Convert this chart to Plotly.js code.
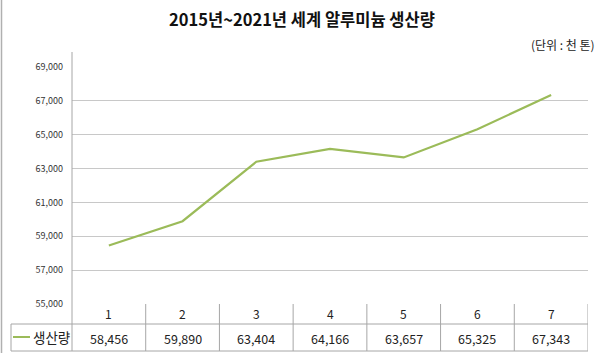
<!DOCTYPE html>
<html>
<head>
<meta charset="utf-8">
<script src="https://cdn.plot.ly/plotly-3.0.1.min.js"></script>
<style>html,body{margin:0;padding:0;background:#fff;}#chart{width:600px;height:353px;}</style>
</head>
<body>
<div id="chart"></div>
<script>
const categories = [1, 2, 3, 4, 5, 6, 7];
const production = [58456, 59890, 63404, 64166, 63657, 65325, 67343];
const seriesName = '생산량';
const yTicks = [55000, 57000, 59000, 61000, 63000, 65000, 67000, 69000];
const titleText = '2015년~2021년 세계 알루미늄 생산량';
const unitText = '(단위 : 천 톤)';

const W = 600, H = 353;
const L = 72, R = 12, T = 67, B = 49;
const pw = W - L - R, ph = H - T - B;
const px = p => (p - L) / pw;      // pixel x -> paper
const py = p => (H - B - p) / ph;  // pixel y -> paper

const font = '"Noto Sans CJK KR", "Noto Sans", sans-serif';
const border = '#a6a6a6';
const green = '#9bbb59';

const rowDiv = py(324), rowBot = py(351), tblTop = 0;
const shapes = [];
// left frame border
shapes.push({type:'line', xref:'paper', yref:'paper', x0:px(1.5), x1:px(1.5), y0:py(0), y1:py(353), line:{color:'#b0b0b0', width:1.5}});
// y axis line extended
shapes.push({type:'line', xref:'paper', yref:'paper', x0:0, x1:0, y0:py(52), y1:rowBot, line:{color:border, width:1}});
// table horizontal lines
shapes.push({type:'line', xref:'paper', yref:'paper', x0:px(11), x1:1, y0:rowDiv, y1:rowDiv, line:{color:border, width:1}});
shapes.push({type:'line', xref:'paper', yref:'paper', x0:px(11), x1:1, y0:rowBot, y1:rowBot, line:{color:border, width:1}});
// left edge of legend cell
shapes.push({type:'line', xref:'paper', yref:'paper', x0:px(11), x1:px(11), y0:rowDiv, y1:rowBot, line:{color:border, width:1}});
// column separators
categories.forEach((c, i) => {
  shapes.push({type:'line', xref:'x', yref:'paper', x0:c + 0.5, x1:c + 0.5, y0:tblTop, y1:rowBot, line:{color:border, width:1}});
});
// legend swatch
shapes.push({type:'line', xref:'paper', yref:'paper', x0:px(13), x1:px(30), y0:py(337), y1:py(337), line:{color:green, width:2}});

const annotations = [];
categories.forEach((c, i) => {
  annotations.push({xref:'x', yref:'paper', x:c, y:py(313), text:String(c), showarrow:false, xanchor:'center', yanchor:'middle', font:{family:font, size:12, color:'#222'}});
  annotations.push({xref:'x', yref:'paper', x:c, y:py(338), text:production[i].toLocaleString('en-US'), showarrow:false, xanchor:'center', yanchor:'middle', font:{family:font, size:12.5, color:'#222'}});
});
annotations.push({xref:'paper', yref:'paper', x:px(31), y:py(337), text:seriesName, showarrow:false, xanchor:'left', yanchor:'middle', font:{family:font, size:13.5, color:'#222'}});
annotations.push({xref:'paper', yref:'paper', x:px(597), y:py(44), text:unitText, showarrow:false, xanchor:'right', yanchor:'middle', font:{family:font, size:12, color:'#222'}});

const trace = {
  x: categories, y: production, type:'scatter', mode:'lines', name:seriesName,
  line:{color:green, width:2.2}, hoverinfo:'skip'
};

const layout = {
  width: W, height: H,
  margin:{l:L, r:R, t:T, b:B, pad:0},
  paper_bgcolor:'#fff', plot_bgcolor:'#fff',
  showlegend:false,
  title:{text:'<b>' + titleText + '</b>', xref:'container', yref:'container', x:302 / W, xanchor:'center', y:1 - 20 / H, yanchor:'middle', font:{family:font, size:16.5, color:'#111'}},
  xaxis:{range:[0.5, 7.5], showgrid:false, zeroline:false, showticklabels:false, ticks:'', showline:false, fixedrange:true},
  yaxis:{range:[55000, 69000], tickvals:yTicks, ticktext:yTicks.map(v => v.toLocaleString('en-US')), showgrid:true, gridcolor:'#c8c8c8', gridwidth:1, zeroline:false, showline:false, ticks:'', ticklabelstandoff:8, tickfont:{family:font, size:9, color:'#333'}, fixedrange:true},
  shapes: shapes,
  annotations: annotations
};

Plotly.newPlot('chart', [trace], layout, {staticPlot:true, displayModeBar:false});
</script>
</body>
</html>
